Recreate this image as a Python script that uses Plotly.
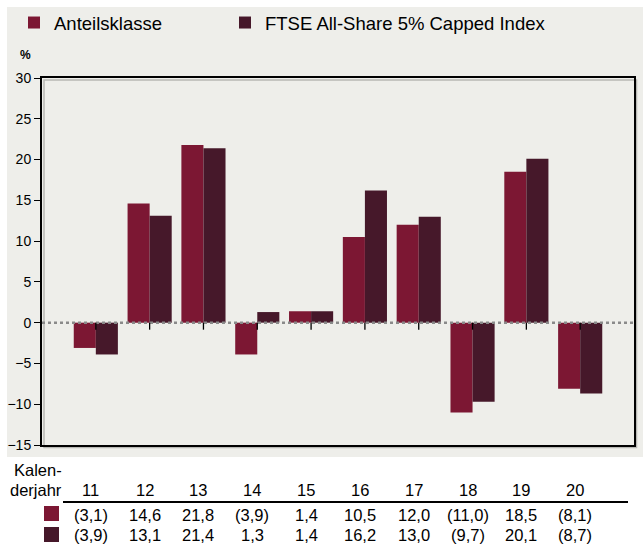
import plotly.graph_objects as go

years = ["11", "12", "13", "14", "15", "16", "17", "18", "19", "20"]
fund = [-3.1, 14.6, 21.8, -3.9, 1.4, 10.5, 12.0, -11.0, 18.5, -8.1]
index = [-3.9, 13.1, 21.4, 1.3, 1.4, 16.2, 13.0, -9.7, 20.1, -8.7]
fund_labels = ["(3,1)", "14,6", "21,8", "(3,9)", "1,4", "10,5", "12,0", "(11,0)", "18,5", "(8,1)"]
index_labels = ["(3,9)", "13,1", "21,4", "1,3", "1,4", "16,2", "13,0", "(9,7)", "20,1", "(8,7)"]
series_names = ["Anteilsklasse", "FTSE All-Share 5% Capped Index"]

C_FUND = "#7c1733"
C_INDEX = "#46182a"
BG = "#eeeeea"
FONT = "Liberation Sans, Arial, sans-serif"

W, H = 643, 545
L, R, T, B = 42, 9, 78, 100
pw, ph = W - L - R, H - T - B


def px_x(px):
    return (px - L) / pw


def px_y(py):
    return (H - B - py) / ph


fig = go.Figure()
fig.add_trace(go.Bar(x=years, y=fund, name=series_names[0], marker_color=C_FUND,
                     marker_line_width=0, legend="legend"))
fig.add_trace(go.Bar(x=years, y=index, name=series_names[1], marker_color=C_INDEX,
                     marker_line_width=0, legend="legend2"))

shapes = []
# gray panel
shapes.append(dict(type="rect", xref="paper", yref="paper", layer="below",
                   x0=px_x(7), x1=px_x(650), y0=px_y(457), y1=px_y(7),
                   fillcolor=BG, line_width=0))
# subtle shadow of the frame (right and bottom)
shapes.append(dict(type="rect", xref="paper", yref="paper", layer="below",
                   x0=px_x(44), x1=px_x(636.5), y0=px_y(447.5), y1=px_y(80),
                   fillcolor="rgba(0,0,0,0)", line=dict(color="#b8b8b4", width=1.5)))
# dotted zero line
shapes.append(dict(type="line", xref="x domain", yref="y", x0=0, x1=1, y0=0, y1=0,
                   line=dict(color="#8a8a8a", width=2.5, dash="dot"), layer="above"))
# ticks at zero line
for i, yr in enumerate(years):
    shapes.append(dict(type="line", xref="x", yref="y", ysizemode="pixel", yanchor=0,
                       x0=i, x1=i, y0=0, y1=-7, line=dict(color="black", width=1.3)))
# table rule
shapes.append(dict(type="line", xref="paper", yref="paper", x0=px_x(63), x1=px_x(628),
                   y0=px_y(502), y1=px_y(502), line=dict(color="black", width=2)))
# table squares
for (top, col) in [(506, C_FUND), (527, C_INDEX)]:
    shapes.append(dict(type="rect", xref="paper", yref="paper", x0=px_x(44), x1=px_x(59),
                       y0=px_y(top + 15), y1=px_y(top), fillcolor=col, line_width=0))

ann = []
ann.append(dict(text="<b>%</b>", xref="paper", yref="paper", x=px_x(25), y=px_y(55),
                showarrow=False, font=dict(size=12, color="black"),
                xanchor="center", yanchor="middle"))
ann.append(dict(text="Kalen-", xref="paper", yref="paper", x=px_x(64), y=px_y(470),
                showarrow=False, xanchor="right", yanchor="middle", font=dict(size=16.5)))
ann.append(dict(text="derjahr", xref="paper", yref="paper", x=px_x(64), y=px_y(490),
                showarrow=False, xanchor="right", yanchor="middle", font=dict(size=16.5)))
for i, yr in enumerate(years):
    for txt, py in [(yr, 490), (fund_labels[i], 515), (index_labels[i], 535)]:
        ann.append(dict(text=txt, xref="x", yref="paper", x=i, y=px_y(py), xshift=-5,
                        showarrow=False, xanchor="center", yanchor="middle",
                        font=dict(size=16.5)))

leg = dict(orientation="h", xanchor="left", yanchor="top", bgcolor="rgba(0,0,0,0)",
           font=dict(size=18.5), itemsizing="constant", xref="container", yref="container")

fig.update_layout(
    width=W, height=H,
    margin=dict(l=L, r=R, t=T, b=B, pad=0, autoexpand=False),
    paper_bgcolor="white", plot_bgcolor=BG,
    font=dict(family=FONT, size=16, color="black"),
    barmode="group", bargap=0.18, bargroupgap=0,
    showlegend=True,
    legend=dict(leg, x=14 / W, y=1 - 4 / H),
    legend2=dict(leg, x=225 / W, y=1 - 4 / H),
    xaxis=dict(type="category", range=[-1, 10], showticklabels=False, ticks="",
               showgrid=False, zeroline=False, showline=True, mirror=True,
               linecolor="black", linewidth=2),
    yaxis=dict(range=[-15, 30], tickvals=list(range(-15, 31, 5)), ticks="outside",
               ticklen=6, tickcolor="black", tickwidth=1.3, showgrid=False,
               zeroline=False, showline=True, mirror=True, linecolor="black",
               linewidth=2, tickfont=dict(size=14)),
    shapes=shapes, annotations=ann,
)

fig.write_html("out.html", config={"displayModeBar": False},
               post_script="document.body.style.margin='0px';")
